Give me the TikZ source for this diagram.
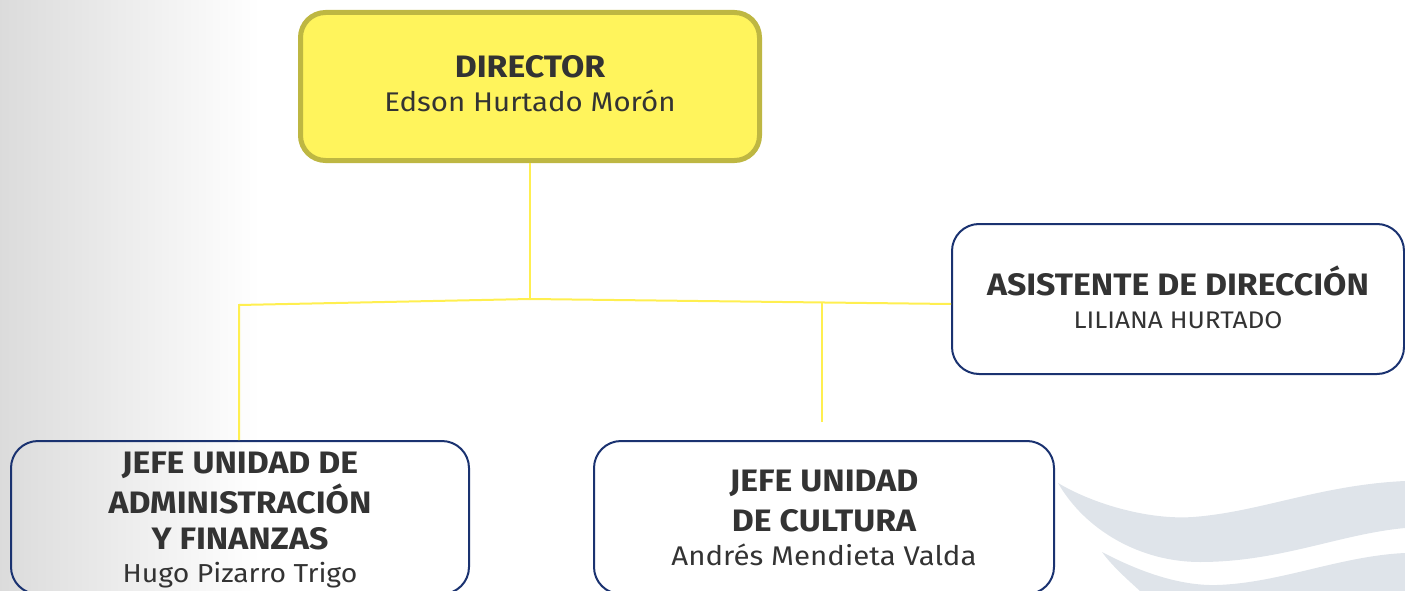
\documentclass[tikz,border=0pt]{standalone}
\usepackage{fontspec}
\setmainfont[FakeStretch=1.09]{Fira Sans}
\definecolor{txt}{HTML}{333333}
\definecolor{yfill}{HTML}{FFF45C}
\definecolor{ydraw}{HTML}{BEB742}
\definecolor{navy}{HTML}{1A3270}
\definecolor{conn}{HTML}{FFEF50}
\definecolor{swoosh}{HTML}{DFE4EA}
\begin{document}
\begin{tikzpicture}[x=1pt,y=-1pt,
  box/.style={draw=navy,line width=2pt,rounded corners=27pt,align=center,text=txt,
    font=\fontsize{31}{40}\selectfont\bfseries},
  dirbox/.style={draw=ydraw,fill=yfill,line width=5pt,rounded corners=25pt,align=center,text=txt,
    font=\fontsize{31}{40}\selectfont\bfseries},
  connector/.style={draw=conn,line width=2pt}]
\useasboundingbox (0,0) rectangle (1405,591);
% background
\shade[left color=black!14,right color=white] (0,0) rectangle (260,591);
\fill[swoosh] (1058,483) .. controls (1095,505) and (1150,520) .. (1193,517)
  .. controls (1260,512) and (1320,485) .. (1405,481) -- (1405,528)
  .. controls (1340,534) and (1280,562) .. (1200,562)
  .. controls (1140,562) and (1085,530) .. (1058,483) -- cycle;
\fill[swoosh] (1102,552) .. controls (1140,572) and (1180,586) .. (1217,585)
  .. controls (1280,583) and (1340,556) .. (1405,553) -- (1405,591) -- (1140,591)
  .. controls (1128,580) and (1112,566) .. (1102,552) -- cycle;
% boxes
\node[dirbox,minimum width=459pt,minimum height=148pt] (dir) at (530,86.5)
  {DIRECTOR\\[-6pt]{\fontsize{27}{27}\selectfont\mdseries Edson Hurtado Morón\rule[-6pt]{0pt}{6pt}}};
\node[box,minimum width=452pt,minimum height=150pt] (asis) at (1178,299)
  {ASISTENTE DE DIRECCIÓN\\[-7pt]{\fontsize{24}{24}\selectfont\mdseries LILIANA HURTADO\rule[-4pt]{0pt}{4pt}}};
\node[box,minimum width=458pt,minimum height=153pt] (adm) at (240,517.5)
  {\rule{0pt}{27.5pt}JEFE UNIDAD DE\\ADMINISTRACIÓN\\[-4pt]Y FINANZAS\\[-7pt]{\fontsize{26}{26}\selectfont\mdseries Hugo Pizarro Trigo}};
\node[box,minimum width=460pt,minimum height=153pt] (cult) at (824,517.5)
  {JEFE UNIDAD\\DE CULTURA\\[-6pt]{\fontsize{27}{27}\selectfont\mdseries Andrés Mendieta Valda}};
% connectors
\coordinate (J) at (dir.south |- 0,299);
\coordinate (L) at (239,305);
\coordinate (aR) at ([yshift=-5pt]asis.west);
\coordinate (cT) at (822,303);
\coordinate (cB) at (822,422);
\draw[connector] (dir.south) -- (J);
\draw[connector] (J) -- (L) -- (L |- adm.north);
\draw[connector] (J) -- (aR);
\draw[connector] (cT) -- (cB);
\end{tikzpicture}
\end{document}
